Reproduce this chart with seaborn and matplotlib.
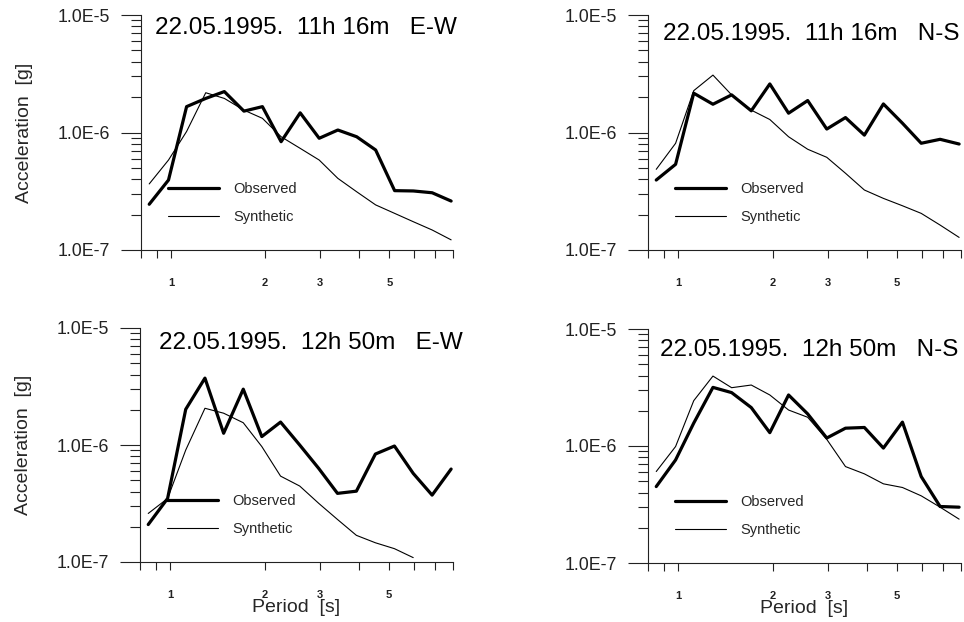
import numpy as np
import pandas as pd
import matplotlib
matplotlib.use("Agg")
import matplotlib.pyplot as plt
import seaborn as sns
from matplotlib.ticker import FixedLocator, FixedFormatter, LogLocator, NullFormatter, NullLocator
from matplotlib.lines import Line2D

# ---- data ----
period = [0.85, 0.98, 1.12, 1.29, 1.48, 1.71, 1.96, 2.25, 2.59, 2.98,
          3.42, 3.93, 4.52, 5.20, 5.97, 6.86, 7.89]

ew1_obs = [2.45e-7, 3.94e-7, 1.66e-6, 1.95e-6, 2.23e-6, 1.52e-6, 1.66e-6, 8.35e-7, 1.47e-6,
           8.93e-7, 1.05e-6, 9.2e-7, 7.1e-7, 3.2e-7, 3.18e-7, 3.07e-7, 2.61e-7]
ew1_syn = [3.65e-7, 5.83e-7, 1.02e-6, 2.18e-6, 1.95e-6, 1.55e-6, 1.32e-6, 9.2e-7, 7.33e-7,
           5.83e-7, 4.07e-7, 3.13e-7, 2.42e-7, 2.05e-7, 1.74e-7, 1.48e-7, 1.22e-7]

ns1_obs = [3.94e-7, 5.36e-7, 2.16e-6, 1.74e-6, 2.09e-6, 1.53e-6, 2.59e-6, 1.46e-6, 1.87e-6,
           1.07e-6, 1.34e-6, 9.5e-7, 1.75e-6, 1.2e-6, 8.1e-7, 8.75e-7, 7.98e-7]
ns1_syn = [4.86e-7, 8.09e-7, 2.27e-6, 3.08e-6, 2.09e-6, 1.55e-6, 1.29e-6, 9.2e-7, 7.2e-7,
           6.15e-7, 4.5e-7, 3.24e-7, 2.75e-7, 2.38e-7, 2.05e-7, 1.63e-7, 1.28e-7]

ew2_obs = [2.09e-7, 3.49e-7, 2.02e-6, 3.73e-6, 1.26e-6, 3.0e-6, 1.18e-6, 1.57e-6, 1.0e-6,
           6.3e-7, 3.86e-7, 4.03e-7, 8.37e-7, 9.8e-7, 5.72e-7, 3.73e-7, 6.23e-7]
ew2_syn = [2.6e-7, 3.49e-7, 9.06e-7, 2.06e-6, 1.87e-6, 1.55e-6, 9.7e-7, 5.42e-7, 4.46e-7,
           3.17e-7, 2.31e-7, 1.69e-7, 1.46e-7, 1.30e-7, 1.09e-7]

ns2_obs = [4.5e-7, 7.6e-7, 1.57e-6, 3.17e-6, 2.86e-6, 2.13e-6, 1.30e-6, 2.73e-6, 1.88e-6,
           1.17e-6, 1.42e-6, 1.44e-6, 9.6e-7, 1.60e-6, 5.48e-7, 3.04e-7, 3.0e-7]
ns2_syn = [6.05e-7, 9.9e-7, 2.44e-6, 3.96e-6, 3.15e-6, 3.32e-6, 2.73e-6, 2.03e-6, 1.76e-6,
           1.14e-6, 6.67e-7, 5.78e-7, 4.75e-7, 4.42e-7, 3.75e-7, 3.0e-7, 2.37e-7]

titles = ["22.05.1995.  11h 16m   E-W", "22.05.1995.  11h 16m   N-S",
          "22.05.1995.  12h 50m   E-W", "22.05.1995.  12h 50m   N-S"]
series_labels = ["Observed", "Synthetic"]
xtick_vals = [0.8, 0.9, 1, 2, 3, 4, 5, 6, 7, 8]
xtick_labels = ["", "", "1", "2", "3", "", "5", "", "", ""]
ytick_vals = [1e-7, 1e-6, 1e-5]
ytick_labels = ["1.0E-7", "1.0E-6", "1.0E-5"]

panels = [(ew1_obs, ew1_syn), (ns1_obs, ns1_syn), (ew2_obs, ew2_syn), (ns2_obs, ns2_syn)]

# ---- layout ----
sns.set_theme(style="ticks")
plt.rcParams["font.family"] = ["Liberation Sans", "DejaVu Sans"]

fig = plt.figure(figsize=(9.64, 6.22), dpi=100)
W, H = 964, 622
boxes = [(141, 15, 453, 250), (648, 15, 961, 250), (140, 328, 453, 562), (648, 329, 961, 563)]
title_pos = [(0.045, 0.945), (0.049, 0.919), (0.060, 0.937), (0.038, 0.910)]

for i, ((obs, syn), box) in enumerate(zip(panels, boxes)):
    l, t, r, b = box
    ax = fig.add_axes([l / W, 1 - b / H, (r - l) / W, (b - t) / H])
    df_o = pd.DataFrame({"Period": period[:len(obs)], "Acc": obs})
    df_s = pd.DataFrame({"Period": period[:len(syn)], "Acc": syn})
    sns.lineplot(data=df_o, x="Period", y="Acc", ax=ax, color="black", lw=2.3,
                 legend=False, sort=False)
    sns.lineplot(data=df_s, x="Period", y="Acc", ax=ax, color="black", lw=0.8,
                 legend=False, sort=False)
    ax.set_xscale("log")
    ax.set_yscale("log")
    ax.set_xlim(0.8, 8)
    ax.set_ylim(1e-7, 1e-5)
    sns.despine(ax=ax)
    for s in ("left", "bottom"):
        ax.spines[s].set_linewidth(0.8)
        ax.spines[s].set_color("#222222")

    ax.xaxis.set_major_locator(FixedLocator(xtick_vals))
    ax.xaxis.set_major_formatter(FixedFormatter(xtick_labels))
    ax.xaxis.set_minor_locator(NullLocator())
    ax.yaxis.set_major_locator(FixedLocator(ytick_vals))
    ax.yaxis.set_major_formatter(FixedFormatter(ytick_labels))
    ax.yaxis.set_minor_locator(LogLocator(base=10, subs=np.arange(2, 10)))
    ax.yaxis.set_minor_formatter(NullFormatter())
    ax.tick_params(axis="x", which="major", direction="out", length=6, width=0.8,
                   pad=14, labelsize=8, colors="#222222")
    for lab in ax.get_xticklabels():
        lab.set_fontweight("bold")
    ax.tick_params(axis="y", which="major", direction="out", length=14.4, width=0.8,
                   pad=8, labelsize=12.8, colors="#222222")
    ax.tick_params(axis="y", which="minor", direction="out", length=7.2, width=0.8,
                   colors="#222222")

    ax.text(title_pos[i][0], title_pos[i][1], titles[i], transform=ax.transAxes,
            fontsize=17.5, ha="left", va="center", color="black", clip_on=False)

    handles = [Line2D([], [], color="black", lw=2.3), Line2D([], [], color="black", lw=0.8)]
    ax.legend(handles, series_labels, loc="center left", bbox_to_anchor=(0.086, 0.2),
              frameon=False, fontsize=10.5, handlelength=3.5, handletextpad=1.0,
              labelspacing=1.0, borderpad=0, borderaxespad=0)

    if i % 2 == 0:
        ax.set_ylabel("Acceleration  [g]", fontsize=14)
        ax.yaxis.set_label_coords(-0.345, 0.5)
    else:
        ax.set_ylabel("")
    if i >= 2:
        ax.set_xlabel("Period  [s]", fontsize=14)
        ax.xaxis.set_label_coords(0.5, -0.16)
    else:
        ax.set_xlabel("")

fig.savefig("out.png", dpi=100, facecolor="white")
